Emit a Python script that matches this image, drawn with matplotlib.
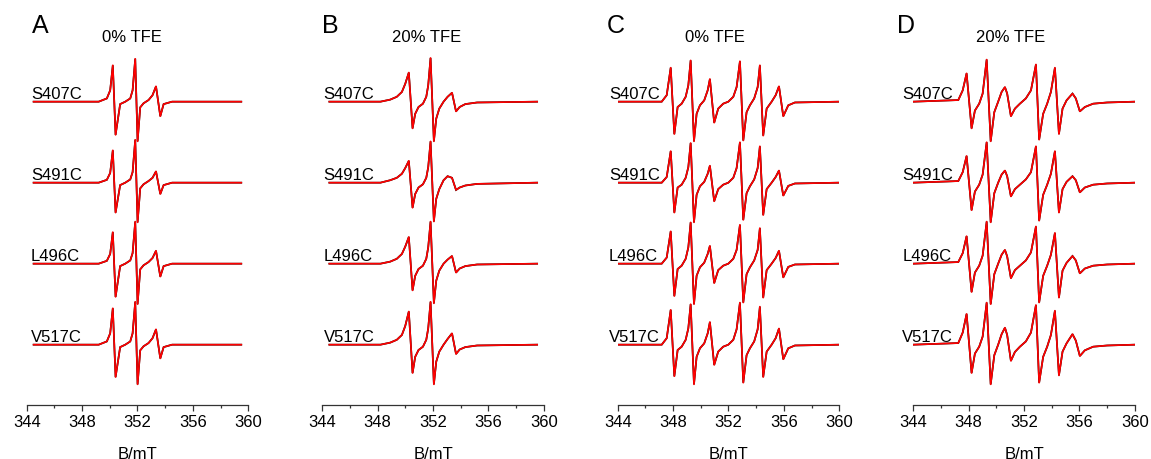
import matplotlib
matplotlib.use("Agg")
import matplotlib.pyplot as plt

plt.rcParams['font.family'] = ['Liberation Sans', 'DejaVu Sans']

# ---------------- data ----------------
mutants = ["S407C", "S491C", "L496C", "V517C"]
offsets = [3, 2, 1, 0]
panel_letters = ["A", "B", "C", "D"]
panel_titles = ["0% TFE", "20% TFE", "0% TFE", "20% TFE"]
xticks = [344, 348, 352, 356, 360]

# Panel A: magnetic field key points (mT) and trace values
field_A = [344.5, 349.2, 349.79, 350.03, 350.22, 350.42, 350.75, 351.12, 351.48,
           351.65, 351.84, 352.01, 352.20, 352.44, 352.80, 353.09, 353.34, 353.65,
           353.89, 354.5, 359.5]
A_S407C = [0, 0, 0.04, 0.14, 0.45, -0.41, -0.03, 0.0, 0.04, 0.14, 0.53, -0.49,
           -0.07, -0.02, 0.02, 0.08, 0.19, -0.18, -0.03, 0, 0]
A_S491C = [0, 0, 0.035, 0.12, 0.40, -0.37, -0.03, 0.0, 0.04, 0.13, 0.53, -0.49,
           -0.07, -0.02, 0.02, 0.06, 0.14, -0.14, -0.03, 0, 0]
A_L496C = [0, 0, 0.035, 0.12, 0.39, -0.41, -0.03, 0.0, 0.04, 0.13, 0.52, -0.50,
           -0.07, -0.02, 0.02, 0.07, 0.16, -0.16, -0.03, 0, 0]
A_V517C = [0, 0, 0.04, 0.14, 0.45, -0.40, -0.03, 0.0, 0.04, 0.14, 0.53, -0.49,
           -0.07, -0.02, 0.02, 0.08, 0.19, -0.17, -0.03, 0, 0]

# Panel B
field_B = [344.51, 348.2, 348.9, 349.38, 349.75, 349.99, 350.25, 350.52, 350.71,
           350.95, 351.27, 351.51, 351.65, 351.82, 352.06, 352.23, 352.45, 352.76,
           353.05, 353.37, 353.66, 353.92, 354.33, 355.18, 359.52]
B_S407C = [0, 0, 0.025, 0.06, 0.12, 0.22, 0.36, -0.33, -0.15, -0.066, -0.025, 0.06,
           0.2, 0.54, -0.49, -0.21, -0.086, 0.0, 0.06, 0.11, -0.12, -0.066, -0.03,
           -0.01, 0]
B_S491C = [0, 0, 0.03, 0.06, 0.11, 0.18, 0.27, -0.31, -0.14, -0.06, -0.02, 0.06,
           0.19, 0.51, -0.48, -0.2, -0.08, 0.03, 0.08, 0.06, -0.09, -0.06, -0.035,
           -0.015, 0]
B_L496C = [0, 0, 0.025, 0.06, 0.12, 0.21, 0.33, -0.33, -0.15, -0.066, -0.025, 0.06,
           0.2, 0.52, -0.49, -0.21, -0.086, 0.0, 0.05, 0.095, -0.11, -0.06, -0.03,
           -0.01, 0]
B_V517C = [0, 0, 0.025, 0.06, 0.12, 0.23, 0.41, -0.35, -0.15, -0.066, -0.025, 0.06,
           0.2, 0.53, -0.49, -0.21, -0.086, 0.0, 0.07, 0.14, -0.115, -0.06, -0.03,
           -0.01, 0]

# Panel C
field_C = [344.0, 347.18, 347.54, 347.83, 348.09, 348.33, 348.62, 348.91, 349.10,
           349.27, 349.51, 349.70, 349.94, 350.25, 350.50, 350.66, 350.97, 351.26,
           351.62, 351.99, 352.35, 352.59, 352.83, 353.07, 353.31, 353.55, 353.86,
           354.11, 354.27, 354.51, 354.76, 355.12, 355.41, 355.65, 355.96, 356.32,
           356.80, 360.0]
C_S407C = [0, 0, 0.08, 0.42, -0.40, -0.066, -0.025, 0.06, 0.2, 0.51, -0.49, -0.15,
           -0.045, 0.016, 0.14, 0.28, -0.26, -0.086, -0.025, 0, 0.06, 0.18, 0.50,
           -0.48, -0.13, -0.045, 0.04, 0.18, 0.45, -0.42, -0.086, 0, 0.08, 0.19,
           -0.18, -0.045, -0.01, 0]
C_S491C = [0, 0, 0.07, 0.39, -0.37, -0.06, -0.025, 0.06, 0.19, 0.49, -0.49, -0.15,
           -0.045, 0.01, 0.11, 0.21, -0.23, -0.08, -0.025, 0, 0.06, 0.18, 0.50,
           -0.46, -0.13, -0.045, 0.04, 0.18, 0.45, -0.40, -0.08, 0, 0.07, 0.15,
           -0.16, -0.04, -0.01, 0]
C_L496C = [0, 0, 0.075, 0.40, -0.40, -0.066, -0.025, 0.06, 0.2, 0.51, -0.50, -0.15,
           -0.045, 0.012, 0.12, 0.22, -0.24, -0.08, -0.025, 0, 0.06, 0.17, 0.48,
           -0.48, -0.13, -0.045, 0.04, 0.17, 0.44, -0.42, -0.08, 0, 0.07, 0.16,
           -0.17, -0.04, -0.01, 0]
C_V517C = [0, 0, 0.08, 0.43, -0.39, -0.066, -0.025, 0.06, 0.2, 0.50, -0.49, -0.15,
           -0.045, 0.016, 0.14, 0.28, -0.25, -0.086, -0.025, 0, 0.06, 0.19, 0.52,
           -0.47, -0.13, -0.045, 0.04, 0.19, 0.47, -0.40, -0.086, 0, 0.08, 0.20,
           -0.18, -0.045, -0.01, 0]

# Panel D
field_D = [344.0, 347.25, 347.57, 347.85, 348.21, 348.45, 348.76, 349.01, 349.30,
           349.59, 349.85, 350.13, 350.38, 350.62, 350.78, 351.05, 351.34, 351.70,
           352.13, 352.50, 352.86, 353.09, 353.38, 353.67, 353.94, 354.23, 354.52,
           354.78, 355.07, 355.50, 355.74, 356.03, 356.39, 356.99, 358.0, 360.0]
D_S407C = [0, 0.02, 0.14, 0.35, -0.33, -0.11, -0.025, 0.1, 0.52, -0.49, -0.13, 0,
           0.12, 0.18, 0.1, -0.18, -0.086, -0.025, 0.04, 0.14, 0.46, -0.47, -0.15,
           -0.025, 0.12, 0.42, -0.40, -0.086, 0.016, 0.10, 0.04, -0.12, -0.066,
           -0.025, -0.01, 0]
D_S491C = [0, 0.02, 0.13, 0.33, -0.34, -0.11, -0.025, 0.1, 0.50, -0.49, -0.13, 0,
           0.1, 0.15, 0.08, -0.17, -0.08, -0.025, 0.04, 0.13, 0.45, -0.47, -0.15,
           -0.025, 0.11, 0.39, -0.37, -0.08, 0.01, 0.08, 0.03, -0.12, -0.06,
           -0.025, -0.01, 0]
D_L496C = [0, 0.02, 0.13, 0.34, -0.35, -0.11, -0.025, 0.1, 0.52, -0.50, -0.13, 0,
           0.11, 0.17, 0.09, -0.18, -0.08, -0.025, 0.04, 0.14, 0.46, -0.48, -0.15,
           -0.025, 0.11, 0.38, -0.42, -0.086, 0.01, 0.095, 0.04, -0.12, -0.06,
           -0.025, -0.01, 0]
D_V517C = [0, 0.02, 0.15, 0.38, -0.35, -0.11, -0.025, 0.1, 0.52, -0.49, -0.13, 0,
           0.13, 0.21, 0.12, -0.20, -0.09, -0.025, 0.04, 0.15, 0.49, -0.47, -0.15,
           -0.025, 0.12, 0.42, -0.38, -0.086, 0.016, 0.13, 0.05, -0.14, -0.07,
           -0.025, -0.01, 0]

panels = [
    (field_A, [A_S407C, A_S491C, A_L496C, A_V517C]),
    (field_B, [B_S407C, B_S491C, B_L496C, B_V517C]),
    (field_C, [C_S407C, C_S491C, C_L496C, C_V517C]),
    (field_D, [D_S407C, D_S491C, D_L496C, D_V517C]),
]

# ---------------- layout ----------------
W, H = 1151, 460
fig = plt.figure(figsize=(W / 100, H / 100), dpi=100)

ax_left_px = [26.7, 322.3, 617.7, 913.3]
ax_width_px = 221.5
ax_bottom_px = 405.7
ax_top_px = 45.0
label_x = [344.3, 344.1, 343.37, 343.2]
letter_x_px = [32, 322, 607, 897]
title_x_px = [131.7, 426.7, 715, 1010.5]

for i, (field, traces) in enumerate(panels):
    ax = fig.add_axes([ax_left_px[i] / W, 1 - ax_bottom_px / H,
                       ax_width_px / W, (ax_bottom_px - ax_top_px) / H])
    for name, off, tr in zip(mutants, offsets, traces):
        y = [off + v for v in tr]
        ax.plot(field, y, color='black', lw=1.25, solid_joinstyle='miter', zorder=2)
        ax.plot(field, y, color='#ff0000', lw=1.2, solid_joinstyle='round', zorder=3)
        ax.text(label_x[i], off + 0.045, name, fontsize=12, ha='left',
                va='baseline', clip_on=False, zorder=4)
    ax.set_xlim(344, 360)
    ax.set_ylim(-0.741, 3.712)
    for s in ['top', 'right', 'left']:
        ax.spines[s].set_visible(False)
    ax.spines['bottom'].set_linewidth(0.9)
    ax.spines['bottom'].set_color('#333333')
    ax.set_yticks([])
    ax.set_xticks(xticks)
    ax.set_xticks([346, 350, 354, 358], minor=True)
    ax.tick_params(axis='x', which='major', direction='out', length=4,
                   width=0.9, color='#333333', labelsize=12, pad=3)
    ax.tick_params(axis='x', which='minor', direction='out', length=2.3,
                   width=0.9, color='#333333')
    ax.set_xlabel("B/mT", fontsize=12, labelpad=12)
    ax.patch.set_alpha(0)

    fig.text(letter_x_px[i] / W, 1 - 33 / H, panel_letters[i], fontsize=18,
             ha='left', va='baseline')
    fig.text(title_x_px[i] / W, 1 - 42.3 / H, panel_titles[i], fontsize=12,
             ha='center', va='baseline')

fig.savefig("out.png", dpi=100)
